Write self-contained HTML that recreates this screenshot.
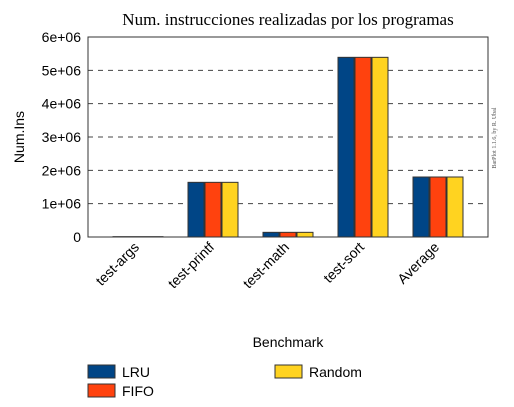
<!DOCTYPE html>
<html><head><meta charset="utf-8"><style>
body{margin:0;background:#fff;width:514px;height:407px;overflow:hidden}
svg{display:block;font-family:"Liberation Sans",sans-serif}
</style></head><body>
<svg id="chart" width="514" height="407">
<text x="288" y="25" text-anchor="middle" font-family="Liberation Serif" font-size="17">Num. instrucciones realizadas por los programas</text>
<g id="grid"></g>
<g id="bars"></g>
<rect x="88" y="37" width="400" height="200" fill="none" stroke="#333" stroke-width="1"/>
<g id="yticks"></g>
<g id="xticks"></g>
<text transform="translate(24,137) rotate(-90)" text-anchor="middle" font-size="14">Num.Ins</text>
<text x="288" y="347" text-anchor="middle" font-size="14">Benchmark</text>
<text transform="translate(496,138) rotate(-90)" text-anchor="middle" font-family="Liberation Serif" font-size="6" fill="#555">BarPlot 1.1.6, by R. Ubal</text>
<g id="legend"></g>
</svg>
<script>
const categories=["test-args","test-printf","test-math","test-sort","Average"];
const seriesNames=["LRU","FIFO","Random"];
const lru=[0.01e6,1.64e6,0.14e6,5.39e6,1.80e6];
const fifo=[0.01e6,1.64e6,0.14e6,5.39e6,1.80e6];
const random=[0.01e6,1.64e6,0.14e6,5.39e6,1.80e6];
const yTicks=[0,1e6,2e6,3e6,4e6,5e6,6e6];
const yTickLabels=["0","1e+06","2e+06","3e+06","4e+06","5e+06","6e+06"];
const colors=["#004586","#ff420e","#ffd320"];
const NS="http://www.w3.org/2000/svg";
const y=v=>237-v/6e6*200;
const xc=i=>138+i*75;
function mk(t,a,p){const e=document.createElementNS(NS,t);for(const k in a)e.setAttribute(k,a[k]);p.appendChild(e);return e;}
const grid=document.getElementById('grid'),yt=document.getElementById('yticks');
yTicks.forEach((v,i)=>{
 if(v>0&&v<6e6){const l=mk('line',{x1:88,x2:488,y1:y(v),y2:y(v),stroke:'#444','stroke-dasharray':'5,5'},grid);
 
 }
 const t=mk('text',{x:81,y:y(v)+5,'text-anchor':'end','font-size':'14'},yt);t.textContent=yTickLabels[i];
 
 
});
const bars=document.getElementById('bars');
[lru,fifo,random].forEach((s,j)=>{
 s.forEach((v,i)=>{
  const r=mk('rect',{x:xc(i)-25+j*17,y:y(v),width:16,height:237-y(v),fill:colors[j],stroke:'#333','stroke-width':1},bars);
  
  
 });
});
const xt=document.getElementById('xticks');
categories.forEach((c,i)=>{
 const t=mk('text',{transform:`translate(${xc(i)+2},248) rotate(-45)`,'text-anchor':'end','font-size':'14'},xt);t.textContent=c;
 
 
});
const lg=document.getElementById('legend');
const lpos=[[88,365],[88,384],[275,365]];
seriesNames.forEach((n,j)=>{
 const g=mk('g',{},lg);
 
 
 mk('rect',{x:lpos[j][0],y:lpos[j][1],width:27,height:13,fill:colors[j],stroke:'#333'},g);
 const t=mk('text',{x:lpos[j][0]+34,y:lpos[j][1]+12,'font-size':'14'},g);t.textContent=n;
});
</script>
</body></html>
